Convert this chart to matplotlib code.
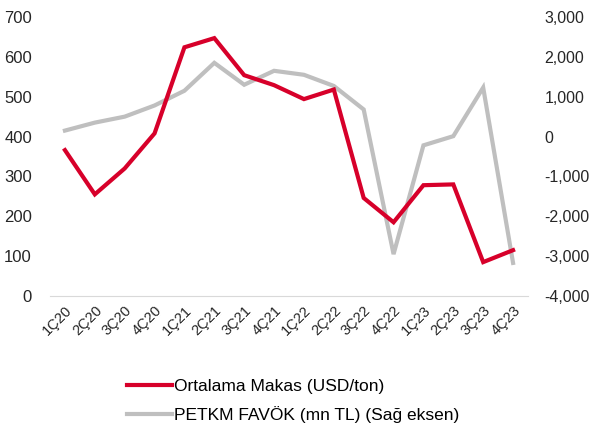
import matplotlib
matplotlib.use("Agg")
import matplotlib.pyplot as plt

plt.rcParams['font.family'] = ['Liberation Sans', 'DejaVu Sans']

categories = ["1Ç20", "2Ç20", "3Ç20", "4Ç20", "1Ç21", "2Ç21", "3Ç21", "4Ç21",
              "1Ç22", "2Ç22", "3Ç22", "4Ç22", "1Ç23", "2Ç23", "3Ç23", "4Ç23"]
makas = [366, 255, 320, 408, 624, 647, 554, 529, 494, 518, 246, 185, 278, 280, 85, 115]
favok = [150, 350, 500, 780, 1150, 1850, 1300, 1650, 1550, 1270, 680, -2950, -220, 10, 1230, -3170]

red = "#D7002A"
gray = "#BFBFBF"
txt = "#262626"

fig = plt.figure(figsize=(5.97, 4.30), dpi=100)
ax = fig.add_axes([50/597, 1-296/430, 478/597, 279/430])
ax2 = ax.twinx()

x = list(range(len(categories)))
l1, = ax.plot(x, makas, color=red, lw=3.0, solid_joinstyle='miter', zorder=3,
              label="Ortalama Makas (USD/ton)")
l2, = ax2.plot(x, favok, color=gray, lw=3.0, solid_joinstyle='miter', zorder=2,
               label="PETKM FAVÖK (mn TL) (Sağ eksen)")
ax.set_zorder(ax2.get_zorder() + 1)
ax.patch.set_visible(False)

ax.set_xlim(-0.5, len(categories) - 0.5)
ax.set_ylim(0, 700)
ax.set_yticks(range(0, 701, 100))
ax2.set_ylim(-4000, 3000)
ax2.set_yticks(range(-4000, 3001, 1000))
ax2.set_yticklabels([f"{v:,}" for v in range(-4000, 3001, 1000)])

ax.set_xticks(x)
ax.set_xticklabels(categories, rotation=45, ha='right', rotation_mode='anchor', fontsize=10.5, color=txt)

for a in (ax, ax2):
    for s in a.spines.values():
        s.set_visible(False)
    a.tick_params(length=0, labelsize=12, colors=txt)
ax.spines['bottom'].set_visible(True)
ax.spines['bottom'].set_color("#D9D9D9")
ax.tick_params(axis='y', pad=13)
ax2.tick_params(axis='y', pad=12, labelsize=11.5)
ax.tick_params(axis='x', pad=5, labelsize=10.5)

fig.legend(handles=[l1, l2], loc='upper left', bbox_to_anchor=(120/597, 1-372/430),
           frameon=False, fontsize=12.5, handlelength=2.6, handletextpad=0.1,
           labelspacing=0.7, borderaxespad=0)

fig.savefig("out.png", dpi=100)
